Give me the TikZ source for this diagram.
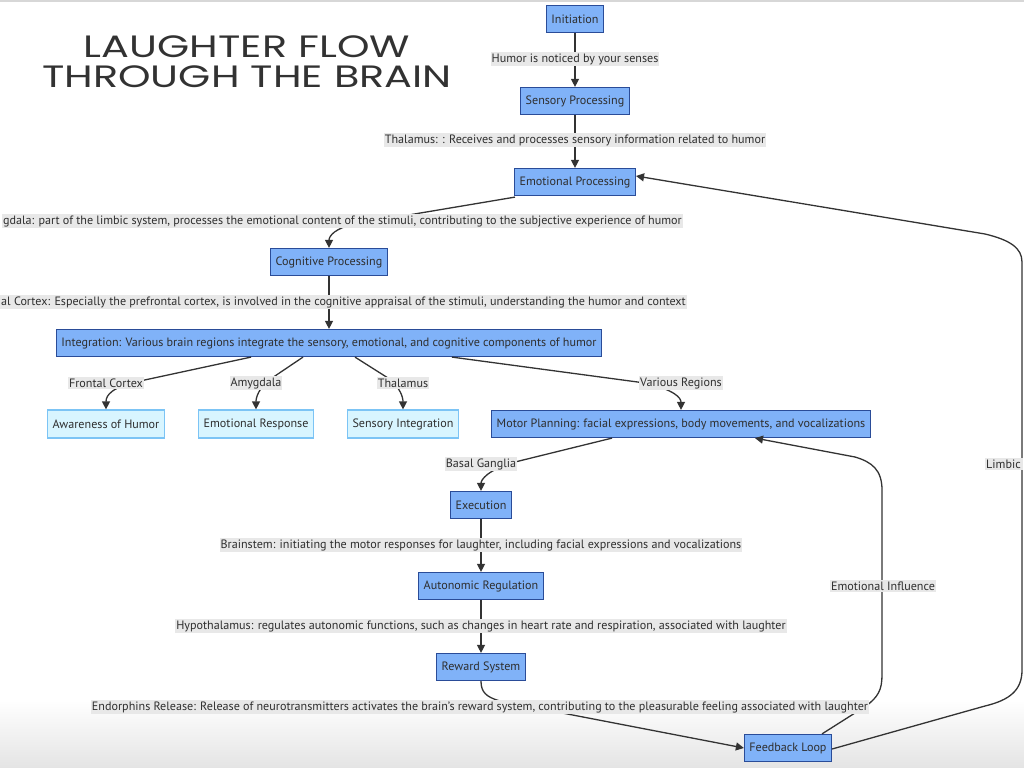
\documentclass[tikz,border=0pt]{standalone}
\usepackage{fontspec}
\setmainfont{PT Sans}
\newfontfamily\titlefont{Poppins}
\usetikzlibrary{arrows.meta}
\definecolor{darkfill}{HTML}{80B2F8}
\definecolor{darkborder}{HTML}{2A4C98}
\definecolor{lightfill}{HTML}{D8F5FF}
\definecolor{lightborder}{HTML}{7CC4F5}
\definecolor{lblbg}{HTML}{E8E8E8}
\definecolor{txt}{HTML}{2E2E2E}
\definecolor{edge}{HTML}{333333}
\tikzset{
  base/.style={font=\fontsize{12.15}{14}\selectfont, text=txt},
  dnode/.style={base, draw=darkborder, fill=darkfill, line width=1.2bp, inner xsep=5bp, minimum height=27bp},
  lnode/.style={base, draw=lightborder, fill=lightfill, line width=1.2bp, inner xsep=5bp, minimum height=28bp},
  elabel/.style={base, fill=lblbg, inner xsep=1bp, inner ysep=1.5bp},
  conn/.style={draw=edge, line width=1.3bp, -{Triangle[length=8bp,width=8bp]}},
}
\begin{document}
\begin{tikzpicture}[x=1bp,y=-1bp]
\useasboundingbox (0,0) rectangle (1024,768);
\clip (0,0) rectangle (1024,768);
\shade[top color=white, bottom color={rgb,255:red,228;green,228;blue,228}] (0,700) rectangle (1024,768);
\draw[line width=1.5bp, draw={rgb,255:red,215;green,215;blue,215}] (0,1) -- (1024,1);

% title
\node[text={rgb,255:red,50;green,50;blue,50}, align=center, font=\titlefont\fontsize{31}{30}\selectfont, inner sep=0pt] (title) at (247,62) {\scalebox{1.34}[1]{LAUGHTER FLOW}\\\scalebox{1.34}[1]{THROUGH THE BRAIN}};

% nodes
\node[dnode] (init) at (575,19) {Initiation};
\node[dnode] (sens) at (575,101) {Sensory Processing};
\node[dnode] (emo) at (575,182) {Emotional Processing};
\node[dnode] (cog) at (329,262) {Cognitive Processing};
\node[dnode] (integ) at (329,343) {Integration: Various brain regions integrate the sensory, emotional, and cognitive components of humor};
\node[lnode] (aware) at (106,424) {Awareness of Humor};
\node[lnode] (eresp) at (256,424) {Emotional Response};
\node[lnode] (sint) at (403,424) {Sensory Integration};
\node[dnode] (motor) at (681,424) {Motor Planning: facial expressions, body movements, and vocalizations};
\node[dnode] (exec) at (481,505) {Execution};
\node[dnode] (auto) at (481,586) {Autonomic Regulation};
\node[dnode] (reward) at (481,667) {Reward System};
\node[dnode] (fb) at (788,748) {Feedback Loop};

% connectors
\draw[conn] (init) -- (sens);
\draw[conn] (sens) -- (emo);
\draw[conn] ([xshift=1bp,yshift=-1bp]emo.south west) -- (355,224) .. controls (335,228) and (329,236) .. (cog.north);
\draw[conn] (cog) -- (integ);
\draw[conn] ([xshift=-78bp]integ.south) -- (140,381) .. controls (112,387) and (106,395) .. (aware.north);
\draw[conn] ([xshift=-26bp]integ.south) -- (272,378) .. controls (258,388) and (256,398) .. (eresp.north);
\draw[conn] ([xshift=26bp]integ.south) -- (388,378) .. controls (401,388) and (403,398) .. (sint.north);
\draw[conn] ([xshift=123bp]integ.south) -- (645,383) .. controls (675,390) and (681,398) .. (motor.north);
\draw[conn] ([xshift=-69bp]motor.south) -- (515,462) .. controls (487,470) and (481,480) .. (exec.north);
\draw[conn] (exec) -- (auto);
\draw[conn] (auto) -- (reward);
\draw[conn] (reward.south) .. controls (481,692) and (486,697) .. (500,701) -- (fb.west);
\draw[conn] ([xshift=34bp]fb.north) -- (866,706) .. controls (878,697) and (882,690) .. (882,675) -- (882,490) .. controls (882,470) and (872,462) .. (855,457) -- ([xshift=74bp]motor.south);
\draw[conn] ([yshift=-1bp]fb.east) -- (985,706) .. controls (1010,700) and (1022,690) .. (1022,670) -- (1022,262) .. controls (1022,248) and (1010,240) .. (985,234) -- ([yshift=6bp]emo.east);

% edge labels
\node[elabel] (l1) at (575,59) {Humor is noticed by your senses};
\node[elabel] (l2) at (575,140) {Thalamus: : Receives and processes sensory information related to humor};
\node[elabel, anchor=east] (l3) at (683,221) {gdala: part of the limbic system, processes the emotional content of the stimuli, contributing to the subjective experience of humor};
\node[elabel, anchor=east] (l4) at (687,302) {al Cortex: Especially the prefrontal cortex, is involved in the cognitive appraisal of the stimuli, understanding the humor and context};
\node[elabel] (l5) at (106,383) {Frontal Cortex};
\node[elabel] (l6) at (256,383) {Amygdala};
\node[elabel] (l7) at (403,383) {Thalamus};
\node[elabel] (l8) at (681,383) {Various Regions};
\node[elabel] (l9) at (481,464) {Basal Ganglia};
\node[elabel] (l10) at (481,545) {Brainstem: initiating the motor responses for laughter, including facial expressions and vocalizations};
\node[elabel] (l11) at (481,626) {Hypothalamus: regulates autonomic functions, such as changes in heart rate and respiration, associated with laughter};
\node[elabel] (l12) at (480,707) {Endorphins Release: Release of neurotransmitters activates the brain's reward system, contributing to the pleasurable feeling associated with laughter};
\node[elabel] (l13) at (883,586) {Emotional Influence};
\node[elabel, anchor=west, inner xsep=1bp, text width=36bp] (l14) at (985,464) {Limbic};
\end{tikzpicture}
\end{document}
